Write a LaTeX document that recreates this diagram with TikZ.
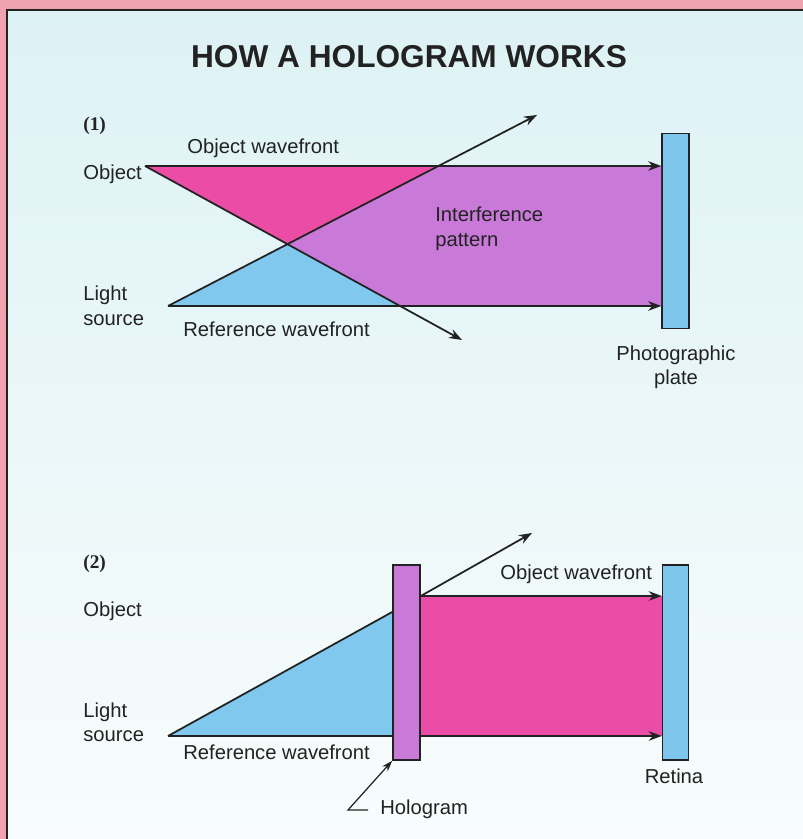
\documentclass[tikz,border=0pt]{standalone}
\usepackage{fontspec}
\setmainfont{Liberation Sans}
\newfontfamily\numfont{Liberation Serif}
\usepackage{tikz}
\usetikzlibrary{arrows.meta}
\definecolor{framepink}{HTML}{F0A3AE}
\definecolor{paneltop}{HTML}{DDF2F5}
\definecolor{panelbot}{HTML}{F8FCFC}
\definecolor{beamblue}{HTML}{80C8EE}
\definecolor{beammagenta}{HTML}{EA4CA6}
\definecolor{beampurple}{HTML}{C97AD9}
\definecolor{plateblue}{HTML}{7FC6EC}
\definecolor{ink}{HTML}{222222}
\tikzset{
  plate/.style={draw=ink, rectangle, line width=0.9pt, minimum width=5.4mm, minimum height=39mm, inner sep=0pt},
  ray/.style={-{Stealth[length=2.6mm, width=1.9mm]}, line width=1pt, draw=ink},
  beam/.style={line width=1pt, draw=ink},
  pointer/.style={-{Stealth[length=2.2mm, width=1.5mm]}, line width=0.7pt, draw=ink},
  lbl/.style={inner sep=0pt, align=left, text=ink, font=\fontsize{11.5}{13.9}\selectfont},
  panelno/.style={inner sep=0pt, text=ink, font=\numfont\bfseries\fontsize{11}{13}\selectfont}
}

\begin{document}
\begin{tikzpicture}
  \useasboundingbox (0,0) rectangle (16.06,16.78);
  % frame and panel
  \fill[framepink] (0,0) rectangle (16.06,16.78);
  \shade[top color=paneltop, bottom color=panelbot] (0.14,0) rectangle (16.06,16.58);
  \draw[ink, line width=0.8pt] (0.14,0) -- (0.14,16.58) -- (16.06,16.58);

  \node[text=ink, font=\bfseries\fontsize{18}{21}\selectfont] (title) at (8.18,15.64) {HOW A HOLOGRAM WORKS};

  % (1) recording
  \coordinate (obj1) at (2.90,13.46);
  \coordinate (src1) at (3.36,10.66);
  \coordinate (tipA) at (9.24,9.98);
  \coordinate (tipB) at (10.74,14.48);
  \node[plate, fill=plateblue] (plate1) at (13.51,12.16) {};
  \coordinate (top1) at (obj1 -| plate1.west);
  \coordinate (bot1) at (src1 -| plate1.west);
  \coordinate (cross1) at (intersection of obj1--tipA and src1--tipB);
  \coordinate (hit1) at (intersection of src1--tipB and obj1--top1);
  \coordinate (low1) at (intersection of obj1--tipA and src1--bot1);

  \fill[beammagenta] (obj1) -- (hit1) -- (cross1) -- cycle;
  \fill[beamblue] (src1) -- (cross1) -- (low1) -- cycle;
  \fill[beampurple] (cross1) -- (hit1) -- (top1) -- (bot1) -- (low1) -- cycle;

  \draw[ray] (obj1) -- (top1);
  \draw[ray] (src1) -- (bot1);
  \draw[ray] (obj1) -- (tipA);
  \draw[ray] (src1) -- (tipB);

  \node[panelno, anchor=west] (no1) at (1.66,14.26) {(1)};
  \node[lbl, anchor=base west] (objwave1) at (3.74,13.70) {Object wavefront};
  \node[lbl, anchor=base west] (objlbl1) at (1.66,13.18) {Object};
  \node[lbl, anchor=west] (srclbl1) at (1.66,10.66) {Light\\source};
  \node[lbl, anchor=base west] (refwave1) at (3.66,10.04) {Reference wavefront};
  \node[lbl, anchor=west] (interf) at (8.70,12.20) {Interference\\pattern};
  \node[lbl, align=center] (platelbl) at (13.52,9.43) {Photographic\\plate};

  % (2) viewing
  \coordinate (src2) at (3.36,2.06);
  \node[plate, fill=beampurple] (holo) at (8.13,3.53) {};
  \node[plate, fill=plateblue, minimum width=5.2mm] (retina) at (13.51,3.53) {};
  \coordinate (hit2) at (holo.west |- 0,4.54);
  \coordinate (exit2) at (holo.east |- 0,4.86);
  \coordinate (tip2) at (10.64,6.12);

  \fill[beamblue] (src2) -- (hit2) -- (src2 -| holo.west) -- cycle;
  \fill[beammagenta] (exit2) rectangle (src2 -| retina.west);
  \draw[beam] (src2) -- (hit2);
  \draw[beam] (src2) -- (src2 -| holo.west);
  \node[plate, fill=beampurple] at (holo) {};
  \draw[ray] (exit2) -- (tip2);
  \draw[ray] (exit2) -- (exit2 -| retina.west);
  \draw[ray] (src2 -| holo.east) -- (src2 -| retina.west);

  \node[panelno, anchor=west] (no2) at (1.66,5.51) {(2)};
  \node[lbl, anchor=base west] (objlbl2) at (1.66,4.44) {Object};
  \node[lbl, anchor=west] (srclbl2) at (1.66,2.33) {Light\\source};
  \node[lbl, anchor=base west] (refwave2) at (3.66,1.58) {Reference wavefront};
  \node[lbl, anchor=base west] (objwave2) at (10.00,5.18) {Object wavefront};
  \node[lbl] (retlbl) at (13.48,1.25) {Retina};
  \node[lbl, anchor=west] (hololbl) at (7.60,0.60) {Hologram};
  \coordinate (hstub) at (7.36,0.58);
  \coordinate (hbend) at (6.96,0.58);
  \draw[pointer] (hstub) -- (hbend) -- (holo.south west);
\end{tikzpicture}
\end{document}
